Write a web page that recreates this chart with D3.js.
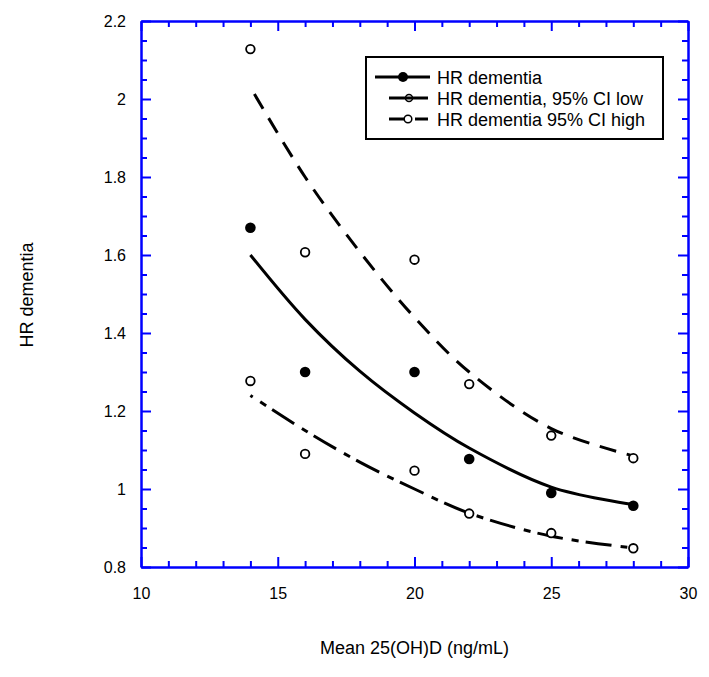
<!DOCTYPE html>
<html>
<head>
<meta charset="utf-8">
<script src="https://cdn.jsdelivr.net/npm/d3@7/dist/d3.min.js"></script>
<style>
  html, body { margin: 0; padding: 0; background: #fff; }
  svg { display: block; }
  text { font-family: "Liberation Sans", Arial, sans-serif; fill: #000; }
</style>
</head>
<body>
<svg id="chart" width="709" height="677"></svg>
<script>
// ---- data ----
const xVals = [14, 16, 20, 22, 25, 28];
const hrValues = [1.67, 1.30, 1.30, 1.077, 0.99, 0.957];
const ciLowValues = [1.277, 1.09, 1.047, 0.937, 0.887, 0.848];
const ciHighValues = [2.128, 1.607, 1.588, 1.269, 1.137, 1.079];

// fitted trend curves (read at sample x positions)
const fitX = [14, 16, 18, 20, 22, 25, 28];
const hrFit = [1.60, 1.435, 1.302, 1.195, 1.105, 1.005, 0.96];
const lowFit = [1.24, 1.15, 1.069, 1.00, 0.938, 0.879, 0.849];
const highFit = [2.03, 1.80, 1.608, 1.44, 1.30, 1.155, 1.085];

const xMajorTicks = [10, 15, 20, 25, 30];
const xMinorTicks = [11,12,13,14,16,17,18,19,21,22,23,24,26,27,28,29];
const yMajorTicks = [0.8, 1.0, 1.2, 1.4, 1.6, 1.8, 2.0, 2.2];
const yTickLabels = ["0.8", "1", "1.2", "1.4", "1.6", "1.8", "2", "2.2"];
const yMinorTicks = [0.85,0.9,0.95,1.05,1.1,1.15,1.25,1.3,1.35,1.45,1.5,1.55,1.65,1.7,1.75,1.85,1.9,1.95,2.05,2.1,2.15];

const legendLabels = ["HR dementia", "HR dementia, 95% CI low", "HR dementia 95% CI high"];
const xTitle = "Mean 25(OH)D (ng/mL)";
const yTitle = "HR dementia";

// ---- layout ----
const svg = d3.select("#chart");
const L = 141, R = 688, T = 21, B = 567;
const x = d3.scaleLinear().domain([10, 30]).range([L, R]);
const y = d3.scaleLinear().domain([0.8, 2.2]).range([B, T]);
const axisColor = "#0000ff";

function styleAxis(g) {
  g.selectAll("path.domain").attr("stroke", axisColor).attr("stroke-width", 2);
  g.selectAll(".tick line").attr("stroke", axisColor).attr("stroke-width", 2);
  g.selectAll(".tick text").style("font-size", "16px").attr("fill", "#000")
    .style("font-family", '"Liberation Sans", Arial, sans-serif');
}

// bottom
svg.append("g").attr("transform", `translate(0,${B})`)
  .call(d3.axisBottom(x).tickValues(xMinorTicks).tickSize(-6).tickSizeOuter(0).tickFormat(""))
  .call(styleAxis);
svg.append("g").attr("transform", `translate(0,${B})`)
  .call(d3.axisBottom(x).tickValues(xMajorTicks).tickSize(-10).tickSizeOuter(0).tickPadding(21).tickFormat(d3.format("d")))
  .call(styleAxis);
// top
svg.append("g").attr("transform", `translate(0,${T})`)
  .call(d3.axisTop(x).tickValues(xMinorTicks).tickSize(-6).tickSizeOuter(0).tickFormat(""))
  .call(styleAxis);
svg.append("g").attr("transform", `translate(0,${T})`)
  .call(d3.axisTop(x).tickValues(xMajorTicks).tickSize(-10).tickSizeOuter(0).tickFormat(""))
  .call(styleAxis);
// left
svg.append("g").attr("transform", `translate(${L},0)`)
  .call(d3.axisLeft(y).tickValues(yMinorTicks).tickSize(-6).tickSizeOuter(0).tickFormat(""))
  .call(styleAxis);
svg.append("g").attr("transform", `translate(${L},0)`)
  .call(d3.axisLeft(y).tickValues(yMajorTicks).tickSize(-10).tickSizeOuter(0).tickPadding(15)
    .tickFormat((d, i) => yTickLabels[i]))
  .call(styleAxis);
// right
svg.append("g").attr("transform", `translate(${R},0)`)
  .call(d3.axisRight(y).tickValues(yMinorTicks).tickSize(-6).tickSizeOuter(0).tickFormat(""))
  .call(styleAxis);
svg.append("g").attr("transform", `translate(${R},0)`)
  .call(d3.axisRight(y).tickValues(yMajorTicks).tickSize(-10).tickSizeOuter(0).tickFormat(""))
  .call(styleAxis);

// ---- fitted curves ----
const line = d3.line().x(d => x(d[0])).y(d => y(d[1])).curve(d3.curveCatmullRom.alpha(0.5));
svg.append("path").datum(d3.zip(fitX, hrFit)).attr("d", line)
  .attr("fill", "none").attr("stroke", "#000").attr("stroke-width", 3);
svg.append("path").datum(d3.zip(fitX, highFit)).attr("d", line)
  .attr("fill", "none").attr("stroke", "#000").attr("stroke-width", 3)
  .attr("stroke-dasharray", "17,11").attr("stroke-dashoffset", -8);
svg.append("path").datum(d3.zip(fitX, lowFit)).attr("d", line)
  .attr("fill", "none").attr("stroke", "#000").attr("stroke-width", 3)
  .attr("stroke-dasharray", "7,7,26,9").attr("stroke-dashoffset", -12);

// ---- points ----
svg.append("g").selectAll("circle").data(d3.zip(xVals, ciHighValues)).join("circle")
  .attr("cx", d => x(d[0])).attr("cy", d => y(d[1])).attr("r", 4.3)
  .attr("fill", "#fff").attr("stroke", "#000").attr("stroke-width", 1.8);
svg.append("g").selectAll("circle").data(d3.zip(xVals, ciLowValues)).join("circle")
  .attr("cx", d => x(d[0])).attr("cy", d => y(d[1])).attr("r", 4.3)
  .attr("fill", "#fff").attr("stroke", "#000").attr("stroke-width", 1.8);
svg.append("g").selectAll("circle").data(d3.zip(xVals, hrValues)).join("circle")
  .attr("cx", d => x(d[0])).attr("cy", d => y(d[1])).attr("r", 5.3)
  .attr("fill", "#000");

// ---- legend ----
const lg = svg.append("g");
lg.append("rect").attr("x", 366).attr("y", 57).attr("width", 297).attr("height", 82)
  .attr("fill", "#fff").attr("stroke", "#000").attr("stroke-width", 2);
const rowY = [77, 98, 119];
// row 1
lg.append("line").attr("x1", 375).attr("x2", 430).attr("y1", rowY[0]).attr("y2", rowY[0])
  .attr("stroke", "#000").attr("stroke-width", 3);
lg.append("circle").attr("cx", 403).attr("cy", rowY[0]).attr("r", 5).attr("fill", "#000");
// row 2
lg.append("line").attr("x1", 389).attr("x2", 428).attr("y1", rowY[1]).attr("y2", rowY[1])
  .attr("stroke", "#000").attr("stroke-width", 3);
lg.append("circle").attr("cx", 409).attr("cy", rowY[1]).attr("r", 3.5)
  .attr("fill", "none").attr("stroke", "#000").attr("stroke-width", 1.5);
// row 3
lg.append("line").attr("x1", 389).attr("x2", 406).attr("y1", rowY[2]).attr("y2", rowY[2])
  .attr("stroke", "#000").attr("stroke-width", 3);
lg.append("line").attr("x1", 415).attr("x2", 428).attr("y1", rowY[2]).attr("y2", rowY[2])
  .attr("stroke", "#000").attr("stroke-width", 3);
lg.append("circle").attr("cx", 408).attr("cy", rowY[2]).attr("r", 3.8)
  .attr("fill", "#fff").attr("stroke", "#000").attr("stroke-width", 1.5);
lg.selectAll("text.lt").data(legendLabels).join("text").attr("class", "lt")
  .attr("x", 437).attr("y", (d, i) => rowY[i] + 6.5)
  .style("font-size", "18px").text(d => d);

// ---- axis titles ----
svg.append("text").attr("x", (L + R) / 2).attr("y", 654).attr("text-anchor", "middle")
  .style("font-size", "18px").text(xTitle);
svg.append("text").attr("transform", "translate(33,295) rotate(-90)").attr("text-anchor", "middle")
  .style("font-size", "18px").text(yTitle);
</script>
</body>
</html>
